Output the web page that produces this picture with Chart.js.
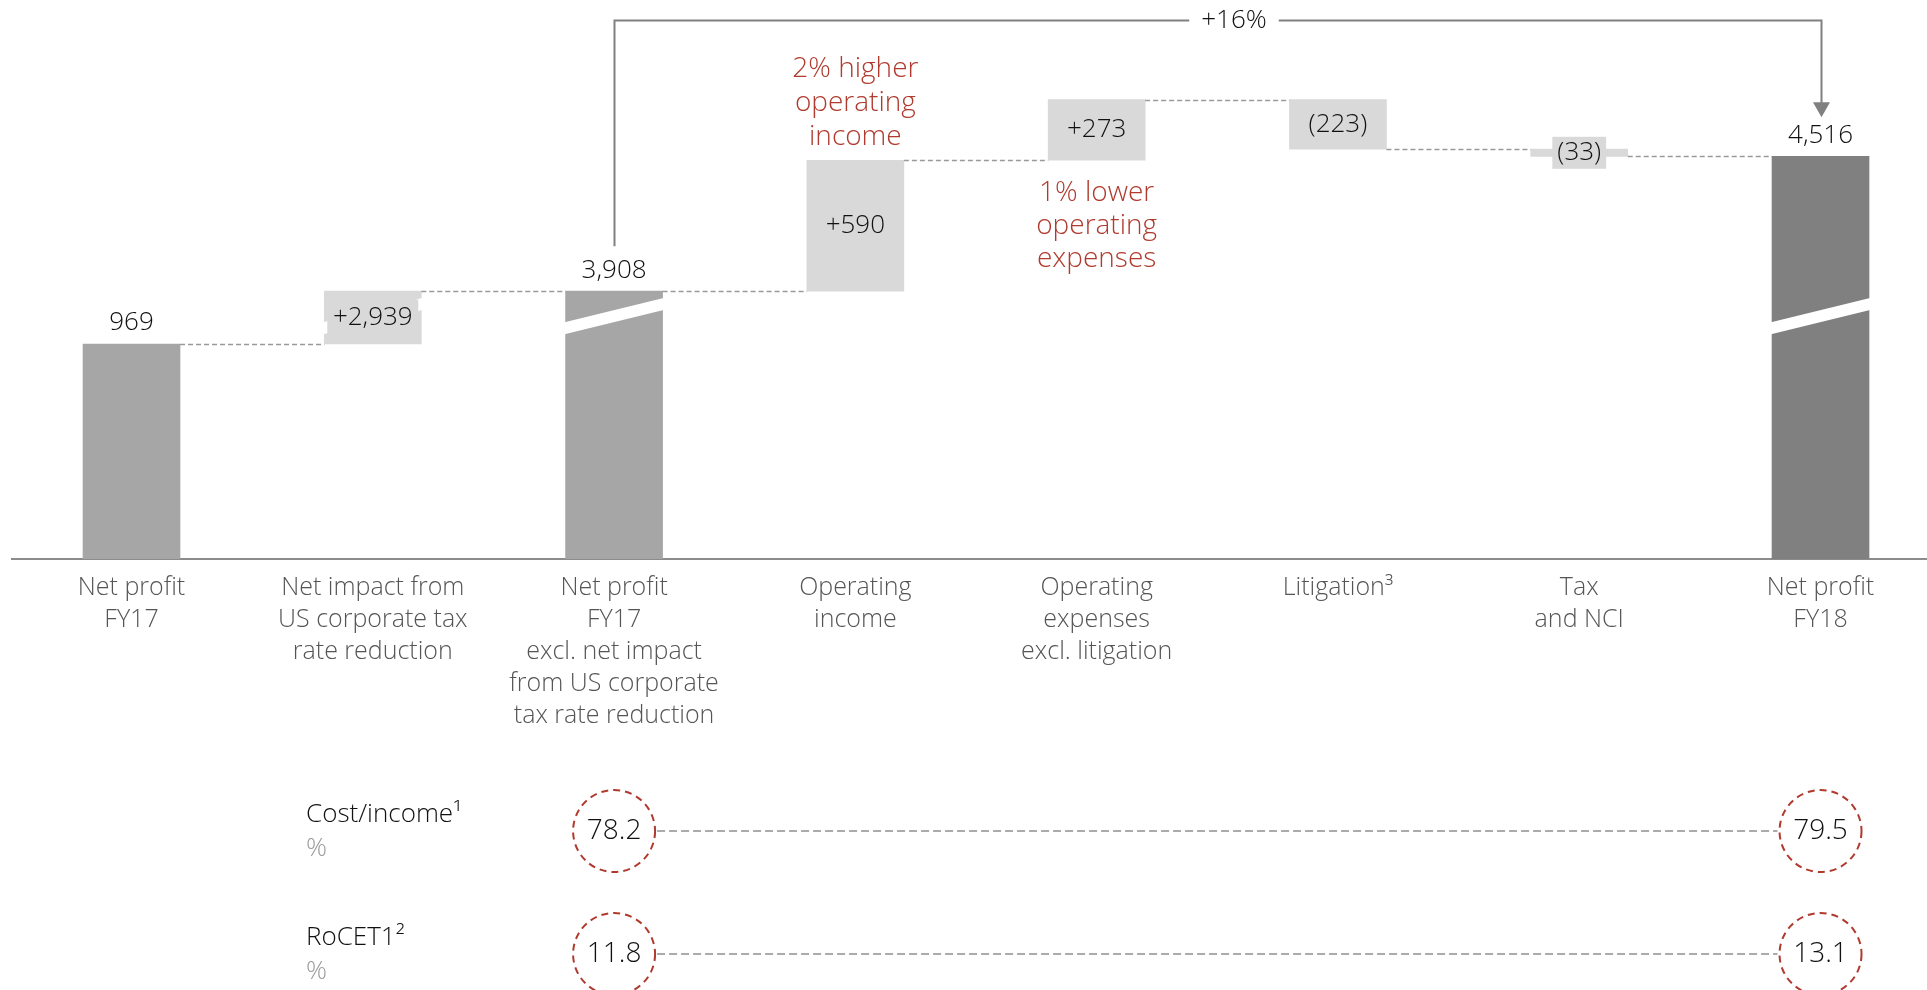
<!DOCTYPE html>
<html>
<head>
<meta charset="utf-8">
<title>Net profit bridge FY17 to FY18</title>
<script src="https://cdn.jsdelivr.net/npm/chart.js@4/dist/chart.umd.min.js"></script>
<style>
  html, body { margin: 0; padding: 0; background: #ffffff; overflow: hidden; }
  #wrap { position: relative; width: 1927px; height: 990px; }
</style>
</head>
<body>
<div id="wrap"><canvas id="bridge" width="1927" height="990"></canvas></div>
<script>
// ---- chart data ----
const categories = [
  ['Net profit', 'FY17'],
  ['Net impact from', 'US corporate tax', 'rate reduction'],
  ['Net profit', 'FY17', 'excl. net impact', 'from US corporate', 'tax rate reduction'],
  ['Operating', 'income'],
  ['Operating', 'expenses', 'excl. litigation'],
  ['Litigation\u00B3'],
  ['Tax', 'and NCI'],
  ['Net profit', 'FY18']
];
const barValues = [969, 2939, 3908, 590, 273, -223, -33, 4516];
const barKinds  = ['total', 'delta', 'total', 'delta', 'delta', 'delta', 'delta', 'total'];

const incomeNote  = ['2% higher', 'operating', 'income'];
const expenseNote = ['1% lower', 'operating', 'expenses'];

const ratioRowNames = ['Cost/income\u00B9', 'RoCET1\u00B2'];
const ratioUnit     = '%';
const ratioCategories = [2, 7];
const costIncome = [78.2, 79.5];
const rocet1     = [11.8, 13.1];

// ---- value axis with a compressed band (axis break) ----
const axisBreak = { from: 1040, to: 3850, ratio: 0.0388 };

class BrokenLinearScale extends Chart.LinearScale {
  squash(v) {
    const { from, to, ratio } = axisBreak;
    if (v <= from) return v;
    if (v >= to) return from + (to - from) * ratio + (v - to);
    return from + (v - from) * ratio;
  }
  unsquash(c) {
    const { from, to, ratio } = axisBreak;
    const top = from + (to - from) * ratio;
    if (c <= from) return c;
    if (c >= top) return to + (c - top);
    return from + (c - from) / ratio;
  }
  getPixelForValue(value) {
    if (value === null || value === undefined) return NaN;
    const lo = this.squash(this.min), hi = this.squash(this.max);
    return this.getPixelForDecimal((this.squash(value) - lo) / (hi - lo));
  }
  getValueForPixel(pixel) {
    const lo = this.squash(this.min), hi = this.squash(this.max);
    return this.unsquash(lo + this.getDecimalForPixel(pixel) * (hi - lo));
  }
}
BrokenLinearScale.id = 'brokenLinear';
BrokenLinearScale.defaults = Chart.LinearScale.defaults;
Chart.register(BrokenLinearScale);

// ---- waterfall ranges ----
const ranges = [];
(function () {
  let run = 0;
  barValues.forEach((v, i) => {
    if (barKinds[i] === 'total') { ranges.push([0, v]); run = v; }
    else { ranges.push([run, run + v]); run += v; }
  });
})();

const fmt = n => Math.abs(n).toLocaleString('en-US');
const valueText = (v, i) => barKinds[i] === 'total' ? fmt(v) : (v >= 0 ? '+' + fmt(v) : '(' + fmt(v) + ')');

const colorTotal = '#a6a6a6';
const colorFinal = '#808080';
const colorDelta = '#d9d9d9';
const barColors = barValues.map((v, i) =>
  barKinds[i] === 'delta' ? colorDelta : (i === barValues.length - 1 ? colorFinal : colorTotal));

const FONT = '"Open Sans", "Noto Sans", "DejaVu Sans", sans-serif';
const RED = '#b03a2e';
const INK = '#111111';

function font(size, weight) { return (weight || 300) + ' ' + size + 'px ' + FONT; }

// ---- annotations drawn on top of the bars ----
const bridgeDecor = {
  id: 'bridgeDecor',
  afterDatasetsDraw(chart) {
    const ctx = chart.ctx;
    const xs = chart.scales.x, ys = chart.scales.y;
    const meta = chart.getDatasetMeta(0);
    const bars = meta.data;
    const half = i => bars[i].width / 2;
    const cx = i => xs.getPixelForValue(i);

    ctx.save();

    // break slashes on bars that span the compressed band
    ranges.forEach((r, i) => {
      const lo = Math.min(r[0], r[1]), hi = Math.max(r[0], r[1]);
      if (lo < axisBreak.from && hi > axisBreak.to) {
        const l = cx(i) - half(i) - 1, rgt = cx(i) + half(i) + 1;
        const yl = ys.getPixelForValue(axisBreak.from);
        const yr = ys.getPixelForValue(axisBreak.to);
        const t = 6;
        ctx.fillStyle = '#ffffff';
        ctx.beginPath();
        ctx.moveTo(l, yl - t);
        ctx.lineTo(rgt, yr - t);
        ctx.lineTo(rgt, yr + t);
        ctx.lineTo(l, yl + t);
        ctx.closePath();
        ctx.fill();
      }
    });

    // dashed connectors between consecutive bars
    ctx.strokeStyle = '#9a9a9a';
    ctx.lineWidth = 1.3;
    ctx.setLineDash([5, 3]);
    for (let i = 0; i < ranges.length - 1; i++) {
      const level = ranges[i][1];
      const yv = Math.round(ys.getPixelForValue(level)) + 0.5;
      ctx.beginPath();
      ctx.moveTo(cx(i) + half(i), yv);
      ctx.lineTo(cx(i + 1) - half(i + 1), yv);
      ctx.stroke();
    }
    ctx.setLineDash([]);

    // value labels
    ctx.font = font(26);
    ctx.textAlign = 'center';
    ctx.textBaseline = 'middle';
    barValues.forEach((v, i) => {
      const txt = valueText(v, i);
      const top = ys.getPixelForValue(Math.max(ranges[i][0], ranges[i][1]));
      const bot = ys.getPixelForValue(Math.min(ranges[i][0], ranges[i][1]));
      let yText;
      if (barKinds[i] === 'total') {
        yText = top - 21;
      } else {
        yText = (top + bot) / 2;
        const w = ctx.measureText(txt).width;
        const h = bot - top;
        if (h < 34) {
          ctx.fillStyle = colorDelta;
          ctx.fillRect(cx(i) - w / 2 - 5, yText - 16, w + 10, 32);
        } else if (Math.min(ranges[i][0], ranges[i][1]) < axisBreak.from && Math.max(ranges[i][0], ranges[i][1]) > axisBreak.to) {
          ctx.fillStyle = colorDelta;
          ctx.fillRect(cx(i) - half(i) + 3, yText - 18, bars[i].width - 6, 36);
        }
      }
      ctx.fillStyle = INK;
      ctx.fillText(txt, cx(i), yText);
    });

    // red commentary
    ctx.fillStyle = RED;
    ctx.font = font(28);
    const incTop = ys.getPixelForValue(ranges[3][1]);
    incomeNote.forEach((line, k) => {
      ctx.fillText(line, cx(3), incTop - 23 - (incomeNote.length - 1 - k) * 34);
    });
    const expBot = ys.getPixelForValue(ranges[4][0]);
    expenseNote.forEach((line, k) => {
      ctx.fillText(line, cx(4), expBot + 33 + k * 33);
    });

    // growth bracket between the two comparable net profit bars
    const first = 2, last = barValues.length - 1;
    const growth = Math.round((barValues[last] / barValues[first] - 1) * 100);
    const growthTxt = (growth >= 0 ? '+' : '') + growth + '%';
    const xa = Math.round(cx(first)) + 0.5, xb = Math.round(cx(last)) + 0.5;
    const yLine = 20.5;
    const yStart = ys.getPixelForValue(ranges[first][1]) - 45;
    const tipY = ys.getPixelForValue(ranges[last][1]) - 39;
    const xMid = (xa + xb) / 2 + 16;
    ctx.font = font(26);
    const gw = ctx.measureText(growthTxt).width / 2 + 12;
    ctx.strokeStyle = '#808080';
    ctx.lineWidth = 2;
    ctx.beginPath();
    ctx.moveTo(xa, yStart);
    ctx.lineTo(xa, yLine);
    ctx.lineTo(xMid - gw, yLine);
    ctx.moveTo(xMid + gw, yLine);
    ctx.lineTo(xb, yLine);
    ctx.lineTo(xb, tipY - 14);
    ctx.stroke();
    ctx.fillStyle = '#808080';
    ctx.beginPath();
    ctx.moveTo(xb - 8.5, tipY - 15);
    ctx.lineTo(xb + 8.5, tipY - 15);
    ctx.lineTo(xb, tipY);
    ctx.closePath();
    ctx.fill();
    ctx.fillStyle = INK;
    ctx.fillText(growthTxt, xMid, yLine);

    // ratio rows under the category labels
    const base = chart.chartArea.bottom;
    const rows = [costIncome, rocet1];
    const rowY = [base + 272, base + 395];
    rows.forEach((vals, r) => {
      const yc = rowY[r];
      ctx.textAlign = 'left';
      ctx.fillStyle = INK;
      ctx.font = font(26);
      ctx.fillText(ratioRowNames[r], 306, yc - 16);
      ctx.fillStyle = '#9a9a9a';
      ctx.fillText(ratioUnit, 306, yc + 18);

      const rad = 41;
      const x1 = cx(ratioCategories[0]), x2 = cx(ratioCategories[1]);
      ctx.strokeStyle = '#ababab';
      ctx.lineWidth = 2;
      ctx.setLineDash([8, 4]);
      ctx.beginPath();
      ctx.moveTo(x1 + rad + 2, yc);
      ctx.lineTo(x2 - rad - 2, yc);
      ctx.stroke();

      ctx.strokeStyle = RED;
      ctx.setLineDash([7, 5]);
      ratioCategories.forEach((ci) => {
        ctx.beginPath();
        ctx.arc(cx(ci), yc, rad, 0, Math.PI * 2);
        ctx.stroke();
      });
      ctx.setLineDash([]);
      ctx.textAlign = 'center';
      ctx.fillStyle = INK;
      ctx.font = font(28);
      ratioCategories.forEach((ci, k) => {
        ctx.fillText(vals[k].toFixed(1), cx(ci), yc);
      });
    });

    ctx.restore();
  }
};

new Chart(document.getElementById('bridge'), {
  type: 'bar',
  data: {
    datasets: [{
      data: ranges.map((r, i) => ({ x: i, y: r })),
      backgroundColor: barColors,
      borderWidth: 0,
      barThickness: 97
    }]
  },
  options: {
    responsive: false,
    animation: false,
    layout: { padding: { left: 12, right: 0, top: 0, bottom: 0 } },
    plugins: { legend: { display: false }, tooltip: { enabled: false } },
    scales: {
      x: {
        type: 'linear',
        offset: false,
        min: -0.4953,
        max: 7.4413,
        afterBuildTicks: scale => { scale.ticks = categories.map((_, i) => ({ value: i })); },
        afterFit: scale => { scale.height = 431; },
        grid: { display: false, drawTicks: false, offset: false },
        border: { display: true, color: '#8c8c8c', width: 2 },
        ticks: {
          autoSkip: false,
          maxRotation: 0,
          minRotation: 0,
          padding: 13,
          color: '#555555',
          font: { family: FONT, size: 25, weight: 300, lineHeight: 1.28 },
          callback: v => categories[v]
        }
      },
      y: {
        type: 'brokenLinear',
        display: false,
        min: 0,
        max: 5220
      }
    }
  },
  plugins: [bridgeDecor]
});
</script>
</body>
</html>
